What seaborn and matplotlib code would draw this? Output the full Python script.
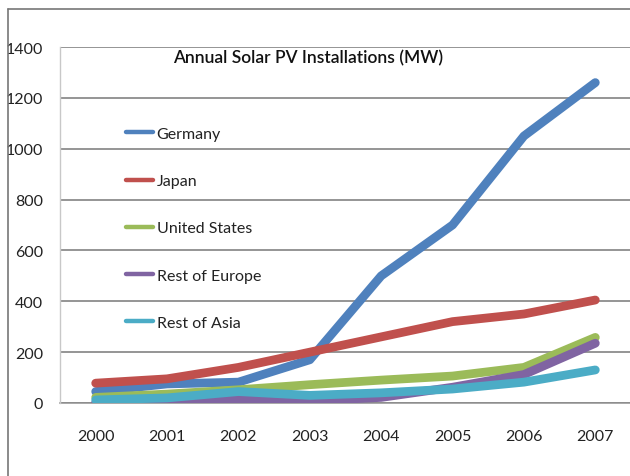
import matplotlib
matplotlib.use("Agg")
import matplotlib.pyplot as plt
import seaborn as sns
import pandas as pd
from matplotlib.lines import Line2D

years = [2000, 2001, 2002, 2003, 2004, 2005, 2006, 2007]
germany = [45, 75, 82, 170, 500, 700, 1050, 1260]
japan = [78, 95, 140, 200, 260, 320, 350, 405]
united_states = [22, 35, 52, 72, 90, 106, 140, 258]
rest_europe = [2, 3, 15, 8, 22, 62, 112, 235]
rest_asia = [12, 20, 45, 30, 40, 55, 82, 130]
series_names = ["Germany", "Japan", "United States", "Rest of Europe", "Rest of Asia"]
colors = ["#4F81BD", "#C0504D", "#9BBB59", "#8064A2", "#4BACC6"]
y_ticks = [0, 200, 400, 600, 800, 1000, 1200, 1400]
title = "Annual Solar PV Installations (MW)"

sns.set_style("white")
plt.rcParams["font.family"] = ["Lato", "DejaVu Sans"]

rows = []
for name, vals in zip(series_names, [germany, japan, united_states, rest_europe, rest_asia]):
    for i, v in enumerate(vals):
        rows.append({"pos": i, "MW": v, "Series": name})
df = pd.DataFrame(rows)

fig = plt.figure(figsize=(6.3, 4.77), dpi=100)
ax = fig.add_axes([60/630, 1 - 404/477, 571/630, 356/477])

sns.lineplot(data=df, x="pos", y="MW", hue="Series", hue_order=series_names,
             palette=colors, linewidth=6.3, ax=ax, legend=False,
             solid_capstyle="round", solid_joinstyle="round")

ax.set_xlim(-0.5, 7.5)
ax.set_ylim(0, 1400)
ax.set_yticks(y_ticks)
ax.set_yticklabels([str(t) for t in y_ticks], fontsize=11.5, color="#222222")
ax.set_xticks([i - 0.5 for i in range(9)])
ax.set_xticklabels([])
ax.set_xticks(range(8), minor=True)
ax.set_xticklabels([str(y) for y in years], minor=True, fontsize=11.5, color="#222222")
ax.tick_params(axis="x", which="major", direction="out", length=5, color="#999999", width=1)
ax.tick_params(axis="x", which="minor", length=0, pad=19)
ax.tick_params(axis="y", direction="out", length=5, color="#bbbbbb", width=1, pad=7)
ax.set_xlabel("")
ax.set_ylabel("")

ax.yaxis.grid(True, color="#8c8c8c", linewidth=1.3)
ax.set_axisbelow(True)
for s in ["top", "right"]:
    ax.spines[s].set_visible(False)
ax.spines["left"].set_color("#c8c8c8")
ax.spines["left"].set_linewidth(1)
ax.spines["bottom"].set_color("#999999")
ax.spines["bottom"].set_linewidth(1.2)
ax.spines["bottom"].set_zorder(0)

ax.text(0.434, 0.972, title, transform=ax.transAxes, ha="center", va="center",
        fontsize=12.5, fontweight="semibold", color="#111111")

handles = [Line2D([0], [0], color=c, linewidth=3.2) for c in colors]
leg = ax.legend(handles, series_names, loc="upper left",
                bbox_to_anchor=(0.116, 0.776), frameon=False, fontsize=11.5,
                handlelength=1.7, handletextpad=0.2, labelspacing=2.07,
                borderaxespad=0, borderpad=0)
for t in leg.get_texts():
    t.set_color("#222222")

# figure frame (left and top edges)
fig.add_artist(Line2D([8/630, 8/630], [0, 1 - 10/477], transform=fig.transFigure,
                      color="#777777", linewidth=1.2))
fig.add_artist(Line2D([8/630, 1], [1 - 10/477, 1 - 10/477], transform=fig.transFigure,
                      color="#777777", linewidth=1.2))

fig.savefig("out.png", dpi=100)
